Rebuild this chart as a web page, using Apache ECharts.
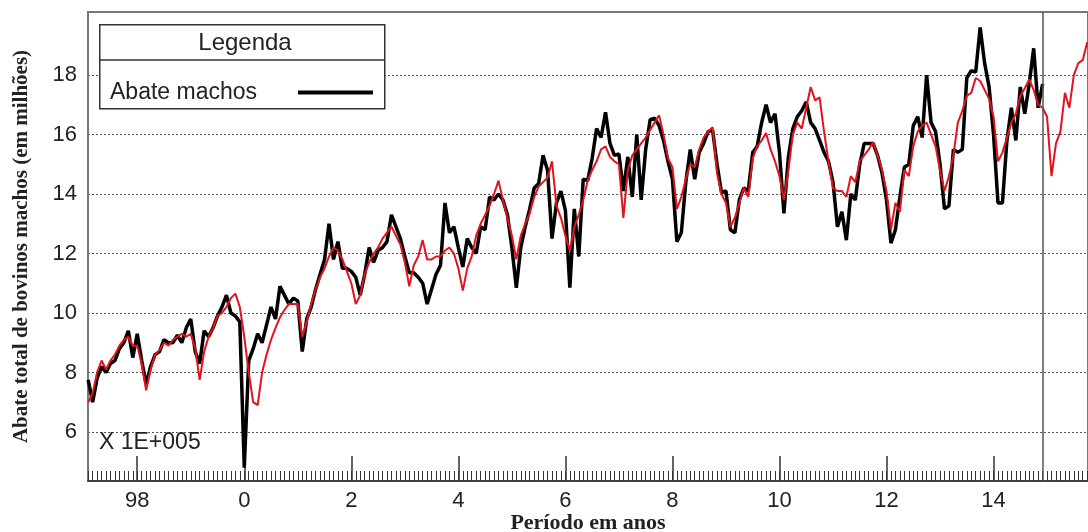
<!DOCTYPE html>
<html><head><meta charset="utf-8">
<script src="https://cdn.jsdelivr.net/npm/echarts@6/dist/echarts.min.js"></script>
<style>html,body{margin:0;padding:0;background:#fff}#c{width:1088px;height:532px}</style>
</head><body><div id="c"></div>
<script>
// first observation: Feb 1997 ; x axis in years relative to 2000
const startYear = 1997;
const startMonth = 2;
const forecastStart = 14.92; // vertical divider (end of observed data)

// Abate machos (observed), monthly, x 1E+005 head
const abateMachos = [
  /*1997*/ 7.75, 7.0, 7.8, 8.2, 8.0, 8.3, 8.4, 8.8, 9.0, 9.4, 8.5,
  /*1998*/ 9.3, 8.4, 7.6, 8.2, 8.6, 8.7, 9.1, 9.0, 9.0, 9.25, 9.0, 9.5,
  /*1999*/ 9.8, 8.7, 8.3, 9.4, 9.2, 9.5, 9.9, 10.2, 10.6, 10.0, 9.9, 9.7,
  /*2000*/ 4.8, 8.4, 8.8, 9.3, 9.0, 9.6, 10.2, 9.8, 10.9, 10.6, 10.3, 10.5,
  /*2001*/ 10.4, 8.7, 9.8, 10.2, 10.8, 11.3, 11.8, 13.0, 11.8, 12.4, 11.5, 11.5,
  /*2002*/ 11.4, 11.2, 10.6, 11.3, 12.2, 11.7, 12.1, 12.2, 12.4, 13.3, 12.9, 12.5,
  /*2003*/ 11.9, 11.35, 11.35, 11.2, 11.0, 10.3, 10.8, 11.3, 11.6, 13.7, 12.7, 12.9,
  /*2004*/ 12.2, 11.55, 12.5, 12.2, 12.0, 12.9, 12.8, 13.9, 13.8, 14.0, 13.8, 13.3,
  /*2005*/ 12.2, 10.85, 12.2, 12.9, 13.5, 14.2, 14.35, 15.3, 14.8, 12.5, 13.7, 14.1,
  /*2006*/ 13.45, 10.85, 13.5, 11.9, 14.5, 14.45, 15.2, 16.2, 15.9, 16.75, 15.7, 15.3,
  /*2007*/ 15.35, 14.1, 15.25, 13.9, 16.0, 13.8, 15.5, 16.5, 16.55, 16.3, 15.8, 15.1,
  /*2008*/ 14.5, 12.4, 12.7, 14.4, 15.5, 14.5, 15.4, 15.7, 16.1, 16.15, 15.0, 14.05,
  /*2009*/ 14.1, 12.8, 12.7, 13.8, 14.2, 14.1, 15.4, 15.6, 16.4, 17.0, 16.4, 16.7,
  /*2010*/ 15.4, 13.35, 15.25, 16.2, 16.6, 16.8, 17.1, 16.4, 16.2, 15.8, 15.4, 15.1,
  /*2011*/ 14.4, 12.9, 13.4, 12.45, 14.0, 13.8, 15.0, 15.7, 15.7, 15.7, 15.3, 14.7,
  /*2012*/ 13.8, 12.35, 12.8, 13.9, 14.9, 15.0, 16.3, 16.6, 15.9, 18.0, 16.4, 16.1,
  /*2013*/ 15.0, 13.5, 13.6, 15.5, 15.4, 15.5, 17.9, 18.15, 18.1, 19.6, 18.4, 17.6,
  /*2014*/ 16.0, 13.7, 13.7, 15.8, 16.9, 15.8, 17.6, 16.7, 17.7, 18.9, 16.9, 17.7
];

// fitted / forecast series (red)
const ajuste = [
  /*1997*/ 7.0, 7.3, 8.0, 8.4, 8.1, 8.4, 8.6, 8.9, 9.1, 9.2, 8.9,
  /*1998*/ 8.9, 8.3, 7.4, 8.1, 8.6, 8.75, 9.0, 8.9, 9.1, 9.2, 9.3, 9.2,
  /*1999*/ 9.3, 8.8, 7.75, 8.7, 9.2, 9.5, 9.9, 10.0, 10.2, 10.5, 10.65, 10.2,
  /*2000*/ 9.2, 8.0, 7.0, 6.9, 8.0, 8.6, 9.1, 9.5, 9.85, 10.1, 10.3, 10.3,
  /*2001*/ 10.3, 9.2, 9.7, 10.3, 10.8, 11.2, 11.5, 11.9, 12.2, 12.1, 11.8, 11.4,
  /*2002*/ 11.0, 10.3, 10.6, 11.3, 11.7, 12.0, 12.2, 12.5, 12.7, 12.9, 12.6, 12.3,
  /*2003*/ 11.7, 10.9, 11.6, 11.9, 12.45, 11.8, 11.8, 11.9, 11.9, 12.1, 12.2, 12.0,
  /*2004*/ 11.5, 10.75, 11.5, 11.9, 12.6, 13.0, 13.3, 13.6, 14.0, 14.45, 13.8, 13.2,
  /*2005*/ 12.6, 11.8, 12.6, 13.0, 13.35, 13.9, 14.25, 14.4, 14.55, 15.1, 13.6, 13.2,
  /*2006*/ 12.6, 12.1, 12.9, 13.3, 13.8, 14.45, 14.8, 15.1, 15.5, 15.6, 15.25, 15.1,
  /*2007*/ 15.0, 13.2, 14.8, 15.3, 15.5, 15.7, 15.9, 16.15, 16.4, 16.65, 16.0, 15.2,
  /*2008*/ 14.9, 13.5, 13.9, 14.5, 15.0, 14.9, 15.5, 15.9, 16.1, 16.25, 14.7, 14.0,
  /*2009*/ 13.7, 12.9, 13.2, 13.7, 14.2, 13.9, 15.2, 15.6, 15.8, 16.05, 15.5, 15.1,
  /*2010*/ 14.6, 13.8, 14.8, 16.0, 16.4, 16.2, 16.9, 17.6, 17.15, 17.25, 16.1, 15.1,
  /*2011*/ 14.2, 14.1, 14.1, 13.9, 14.6, 14.4, 15.1, 15.3, 15.5, 15.75, 15.3, 14.8,
  /*2012*/ 14.1, 12.8, 13.7, 13.4, 14.8, 14.6, 15.6, 16.1, 16.3, 16.4, 16.0, 15.6,
  /*2013*/ 14.8, 14.1, 14.6, 15.3, 16.4, 16.8, 17.3, 17.4, 17.9, 17.8, 17.5, 17.2,
  /*2014*/ 16.6, 15.1, 15.4, 15.9, 16.4, 16.7, 17.3, 17.55, 17.85, 17.5, 17.0, 16.9,
  /*2015*/ 16.6, 14.6, 15.7, 16.1, 17.4, 16.9, 18.0, 18.4, 18.5, 19.1
];

const xTickValues = [-2, 0, 2, 4, 6, 8, 10, 12, 14];
const yTickValues = [6, 8, 10, 12, 14, 16, 18];
const xMin = -2.92, xMax = 15.765;
const yMin = 4.35, yMax = 20.12;

function toT(i) { return (startYear - 2000) + (startMonth - 1 + i) / 12; }
const blackData = abateMachos.map((v, i) => [toT(i), v]);
const redData = ajuste.map((v, i) => [toT(i), v]);
const monthTicks = [];
for (let i = 0; toT(i) <= xMax; i++) monthTicks.push(toT(i));

const sans = 'Liberation Sans';
const serif = 'Liberation Serif';
const chart = echarts.init(document.getElementById('c'), null, { renderer: 'canvas' });
chart.setOption({
  animation: false,
  backgroundColor: '#fff',
  grid: { left: 88, top: 12, right: 0, bottom: 51, containLabel: false, outerBoundsMode: 'none',
    show: true, borderColor: '#777', borderWidth: 2, backgroundColor: 'transparent' },
  xAxis: [{
    type: 'value', min: xMin, max: xMax,
    name: 'Período em anos', nameLocation: 'middle', nameGap: 31, nameMoveOverlap: false,
    nameTextStyle: { fontFamily: serif, fontWeight: 'bold', fontSize: 22, color: '#222' },
    axisLine: { show: true, onZero: false, lineStyle: { color: '#333', width: 1.5 } },
    axisTick: { show: true, inside: true, length: 25, customValues: xTickValues, lineStyle: { color: '#333', width: 1.5 } },
    axisLabel: { customValues: xTickValues, margin: 9, fontFamily: sans, fontSize: 22, color: '#222',
      formatter: v => String(v < 0 ? 100 + v : v) },
    splitLine: { show: false }
  }, {
    type: 'value', min: xMin, max: xMax, position: 'bottom',
    axisLine: { show: false, onZero: false },
    axisTick: { show: true, inside: true, length: 10, customValues: monthTicks, lineStyle: { color: '#333', width: 1 } },
    axisLabel: { show: false },
    splitLine: { show: false }
  }],
  yAxis: {
    type: 'value', min: yMin, max: yMax,
    name: 'Abate total de bovinos machos (em milhões)', nameLocation: 'middle', nameGap: 56, nameMoveOverlap: false,
    nameTextStyle: { fontFamily: serif, fontWeight: 'bold', fontSize: 21, color: '#222' },
    axisLine: { show: true, onZero: false, lineStyle: { color: '#777', width: 2 } },
    axisTick: { show: false, customValues: yTickValues },
    axisLabel: { customValues: yTickValues, margin: 11, fontFamily: sans, fontSize: 22, color: '#222' },
    splitLine: { show: true, lineStyle: { color: '#555', width: 1, type: [2, 2] } }
  },
  legend: {
    data: ['Abate machos'], left: 105, top: 76, align: 'right', z: 20,
    itemWidth: 75, itemHeight: 4, icon: 'rect', itemGap: 0,
    textStyle: { fontFamily: sans, fontSize: 23, color: '#222', padding: [0, 36, 0, 0] }
  },
  graphic: [
    { type: 'rect', left: 99, top: 24, z: 5, shape: { width: 285, height: 84 }, style: { fill: '#fff', stroke: '#333', lineWidth: 1.5 } },
    { type: 'line', z: 6, shape: { x1: 99, y1: 60, x2: 384, y2: 60 }, style: { stroke: '#333', lineWidth: 1.5 } },
    { type: 'text', z: 6, x: 245, y: 43, style: { text: 'Legenda', fontFamily: sans, fontSize: 24, fill: '#222', textAlign: 'center', textVerticalAlign: 'middle' } },
    { type: 'text', z: 6, left: 99, top: 431, style: { text: 'X 1E+005', fontFamily: sans, fontSize: 23, fill: '#222' } }
  ],
  series: [{
    name: 'Abate machos', type: 'line', data: blackData, showSymbol: false, symbol: 'none',
    lineStyle: { color: '#000', width: 3.5 }, itemStyle: { color: '#000' }, z: 2
  }, {
    name: 'Ajuste', type: 'line', data: redData, showSymbol: false, symbol: 'none',
    lineStyle: { color: '#e3121b', width: 2 }, itemStyle: { color: '#e3121b' }, z: 3,
    markLine: { silent: true, symbol: 'none', label: { show: false },
      lineStyle: { color: '#555', width: 1.5, type: 'solid' }, data: [{ xAxis: forecastStart }] }
  }]
});
</script></body></html>
